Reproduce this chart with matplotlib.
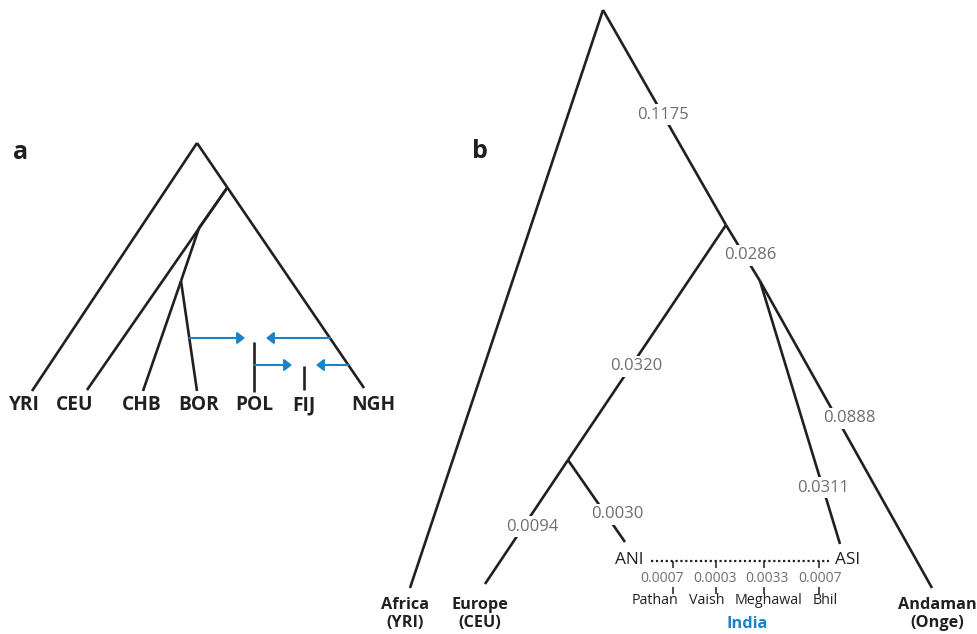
import matplotlib
matplotlib.use("Agg")
import matplotlib.pyplot as plt

plt.rcParams['font.family'] = ['Open Sans', 'DejaVu Sans']

INK = '#231f20'
GREY = '#6d6e71'
BLUE = '#1a82c6'

# ---------------- panel a: tree of populations ----------------
a_nodes = {
    'root': (197, 143), 'n1': (227, 188), 'n2': (199, 228), 'n3': (181, 281),
    'YRI': (32, 391), 'CEU': (87, 390), 'CHB': (143, 391), 'BOR': (197, 391),
    'NGH': (364, 388),
}
a_edges = [('root', 'YRI'), ('root', 'NGH'), ('n1', 'CEU'), ('n2', 'n3'),
           ('n3', 'CHB'), ('n3', 'BOR'), ('n1', 'n2')]
# admixed populations drawn as short stubs (x, y_top, y_bottom)
a_stubs = {'POL': (254, 342, 392), 'FIJ': (304, 366, 390)}
a_leaf_labels = ['YRI', 'CEU', 'CHB', 'BOR', 'POL', 'FIJ', 'NGH']
a_label_x = [23, 75, 142, 199, 254, 304, 373]
# gene-flow arrows: (source edge or stub, y level, tip x)
a_arrows = [(('n3', 'BOR'), 338, 245), (('root', 'NGH'), 338, 266),
            ('POL', 365, 292), (('root', 'NGH'), 365, 316)]

# ---------------- panel b: tree with drift lengths ----------------
b_nodes = {
    'root': (603, 10), 'n1': (726, 225), 'n2': (760, 281), 'n3': (568, 460),
    'Africa': (410, 588), 'Europe': (485, 584), 'ANI': (625, 542),
    'ASI': (840, 544), 'Andaman': (932, 588),
}
b_edges = [('root', 'Africa'), ('root', 'n1'), ('n1', 'n2'), ('n1', 'n3'),
           ('n3', 'Europe'), ('n3', 'ANI'), ('n2', 'ASI'), ('n2', 'Andaman')]
# drift label on edge: value, position along edge, horizontal nudge
b_drift = {('root', 'n1'): ('0.1175', 0.488, 0),
           ('n1', 'n2'): ('0.0286', 0.54, 6),
           ('n1', 'n3'): ('0.0320', 0.60, 5),
           ('n3', 'Europe'): ('0.0094', 0.54, 9),
           ('n3', 'ANI'): ('0.0030', 0.66, 12),
           ('n2', 'ASI'): ('0.0311', 0.787, 0),
           ('n2', 'Andaman'): ('0.0888', 0.447, 12)}
india_groups = ['Pathan', 'Vaish', 'Meghawal', 'Bhil']
india_drift = ['0.0007', '0.0003', '0.0033', '0.0007']
india_tick_x = [673, 716, 764, 819]
india_value_x = [662, 715, 767, 820]
india_name_x = [655, 707, 769, 825]
b_leaf_labels = [('Africa\n(YRI)', 405), ('Europe\n(CEU)', 480),
                 ('Andaman\n(Onge)', 937)]

fig = plt.figure(figsize=(9.78, 6.34), dpi=100)
ax = fig.add_axes([0, 0, 1, 1])
ax.set_xlim(0, 978)
ax.set_ylim(634, 0)
ax.axis('off')

LW = 1.9


def seg(p, q, **kw):
    ax.plot([p[0], q[0]], [p[1], q[1]], color=kw.pop('color', INK),
            lw=kw.pop('lw', LW), solid_capstyle='butt', **kw)


# panel a
for u, v in a_edges:
    seg(a_nodes[u], a_nodes[v])
for name, (x, y0, y1) in a_stubs.items():
    seg((x, y0), (x, y1))
for lab, x in zip(a_leaf_labels, a_label_x):
    ax.text(x, 405, lab, ha='center', va='center', fontsize=13.8,
            fontweight='bold', color=INK)


def x_on_edge(p, q, y):
    return p[0] + (q[0] - p[0]) * (y - p[1]) / (q[1] - p[1])


for src, y, tip in a_arrows:
    if isinstance(src, tuple):
        x0 = x_on_edge(a_nodes[src[0]], a_nodes[src[1]], y)
    else:
        x0 = a_stubs[src][0]
    ax.annotate('', xy=(tip, y), xytext=(x0, y),
                arrowprops=dict(arrowstyle='-|>,head_length=0.32,head_width=0.25',
                                color=BLUE, lw=1.5, shrinkA=0, shrinkB=0,
                                mutation_scale=14))

ax.text(13, 159, 'a', fontsize=18, fontweight='bold', color=INK, va='baseline')
ax.text(472, 158, 'b', fontsize=18, fontweight='bold', color=INK, va='baseline')

# panel b
for u, v in b_edges:
    seg(b_nodes[u], b_nodes[v])
for (u, v), (val, t, dx) in b_drift.items():
    p, q = b_nodes[u], b_nodes[v]
    x = p[0] + t * (q[0] - p[0]) + dx
    y = p[1] + t * (q[1] - p[1])
    ax.text(x, y, val, ha='center', va='center', fontsize=12, color=GREY,
            bbox=dict(boxstyle='square,pad=0.15', fc='white', ec='none'),
            zorder=5)

for lab, x in b_leaf_labels:
    ax.text(x, 614, lab, ha='center', va='center', fontsize=11.7,
            fontweight='bold', color=INK, linespacing=1.1)

ax.text(629, 560, 'ANI', ha='center', va='center', fontsize=12.4, color=INK)
ax.text(835, 560, 'ASI', ha='left', va='center', fontsize=12.4, color=INK)
ax.plot([651, 829], [561, 561], color=INK, lw=1.6, ls=(0, (1, 1.2)))
for tx, vx, nx, val, name in zip(india_tick_x, india_value_x, india_name_x,
                                 india_drift, india_groups):
    seg((tx, 561), (tx, 568), lw=1.1)
    seg((tx, 587), (tx, 594), lw=1.1)
    ax.text(vx, 579, val, ha='center', va='center', fontsize=10, color=GREY)
    ax.text(nx, 600, name, ha='center', va='center', fontsize=10.3, color=INK)
ax.text(747, 628, 'India', ha='center', va='baseline', fontsize=11.8,
        fontweight='bold', color=BLUE)

fig.savefig('out.png', dpi=100)
